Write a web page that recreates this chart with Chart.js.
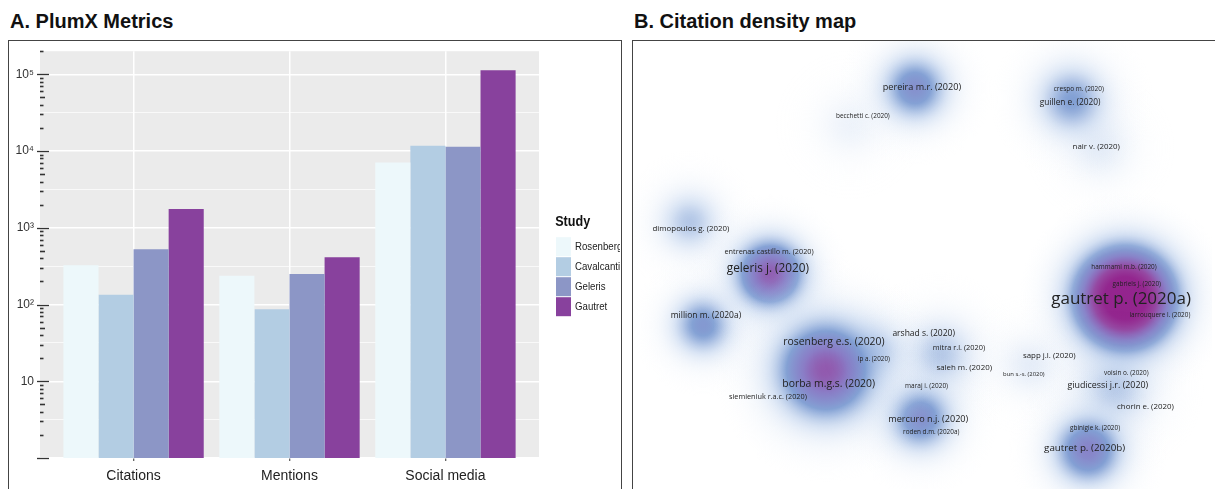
<!DOCTYPE html>
<html>
<head>
<meta charset="utf-8">
<script src="https://cdn.jsdelivr.net/npm/chart.js@4.4.0/dist/chart.umd.min.js"></script>
<style>
  html, body { margin: 0; padding: 0; background: #fff; width: 1215px; height: 489px; overflow: hidden; }
  .title { position: absolute; top: 10px; line-height: 20px; font: bold 20px "Liberation Sans", Arial, sans-serif; color: #111; white-space: nowrap; }
  .panel { position: absolute; top: 40px; height: 470px; border: 1.5px solid #444; box-sizing: border-box; }
  #boxA { left: 8px; width: 614px; }
  #boxB { left: 632px; width: 600px; }
  #wrapA { position: absolute; left: 9px; top: 41px; width: 611px; height: 448px; }
  #wrapB { position: absolute; left: 633px; top: 41px; width: 579px; height: 448px; }
</style>
</head>
<body>
<div class="title" style="left:10px">A. PlumX Metrics</div>
<div class="title" style="left:634px">B. Citation density map</div>
<div class="panel" id="boxA"></div>
<div class="panel" id="boxB"></div>
<div id="wrapA"><canvas id="plumx"></canvas></div>
<div id="wrapB"><canvas id="density"></canvas></div>
<script>
// ---- A. PlumX metrics (log scale)
var categories = ['Citations', 'Mentions', 'Social media'];
var studies = ['Rosenberg', 'Cavalcanti', 'Geleris', 'Gautret'];
var rosenberg = [325, 237, 7100];
var cavalcanti = [134, 87, 11700];
var geleris = [525, 250, 11400];
var gautret = [1760, 412, 113000];
var studyColors = ['#edf8fb', '#b3cde3', '#8c96c6', '#88419d'];
var yTickValues = [10, 100, 1000, 10000, 100000];
var yTickLabels = ['10', '10²', '10³', '10⁴', '10⁵'];

// ---- B. citation density map (map units 0-100)
var authors = ['pereira m.r. (2020)', 'becchetti c. (2020)', 'crespo m. (2020)', 'guillen e. (2020)', 'nair v. (2020)',
  'dimopoulos g. (2020)', 'entrenas castillo m. (2020)', 'geleris j. (2020)', 'million m. (2020a)', 'rosenberg e.s. (2020)',
  'arshad s. (2020)', 'ip a. (2020)', 'mitra r.l. (2020)', 'borba m.g.s. (2020)', 'siemieniuk r.a.c. (2020)',
  'maraj i. (2020)', 'saleh m. (2020)', 'mercuro n.j. (2020)', 'roden d.m. (2020a)', 'hammami m.b. (2020)',
  'gabriels j. (2020)', 'gautret p. (2020a)', 'larrouquere l. (2020)', 'sapp j.l. (2020)', 'bun s.-s. (2020)',
  'voisin o. (2020)', 'giudicessi j.r. (2020)', 'chorin e. (2020)', 'gbinigie k. (2020)', 'gautret p. (2020b)'];
var authorX = [49.9, 39.7, 77.0, 75.5, 80.0, 10.0, 23.5, 23.3, 12.6, 34.7, 50.2, 41.6, 56.3, 33.8, 23.3,
  50.7, 57.2, 51.0, 51.5, 84.8, 87.0, 84.3, 91.0, 71.9, 67.5, 85.2, 82.0, 88.5, 79.8, 78.0];
var authorY = [89.7, 83.3, 89.3, 86.2, 76.3, 58.0, 52.9, 49.3, 38.8, 32.8, 34.6, 29.0, 31.5, 23.4, 20.5,
  23.0, 27.0, 15.6, 12.7, 49.6, 45.8, 42.4, 38.8, 29.7, 25.7, 25.9, 23.0, 18.3, 13.6, 9.2];
var authorWeight = [41, 19, 20, 34, 31, 31, 26, 62, 36, 51, 36, 18, 27, 51, 26,
  20, 31, 41, 19, 19, 19, 104, 19, 31, 15, 19, 39, 31, 19, 46];
var blobX = [37.5, 80.7, 68.6, 9.8, 53.0, 83.2, 41.5, 75.8, 12.1, 48.7, 49.6, 78.6, 23.7, 33.3, 85.0];
var blobY = [81.3, 76.1, 27.7, 59.6, 29.9, 22.5, 30.5, 86.8, 36.6, 89.5, 15.8, 8.7, 48.0, 26.5, 42.6];
var blobR = [76, 76, 72, 72, 84, 90, 70, 82, 72, 78, 78, 80, 80, 112, 106];
var blobLevel = [0.12, 0.16, 0.16, 0.3, 0.3, 0.3, 0.32, 0.4, 0.44, 0.48, 0.48, 0.55, 0.7, 0.72, 1.2];

var sans = '"Liberation Sans", Arial, sans-serif';

function isDecade(v) {
  var l = Math.log10(v);
  return Math.abs(l - Math.round(l)) < 1e-6;
}

var panelBg = {
  id: 'panelBg',
  beforeDraw: function (chart) {
    var a = chart.chartArea, ctx = chart.ctx;
    ctx.save();
    ctx.fillStyle = '#ebebeb';
    ctx.fillRect(a.left, a.top, a.right - a.left, a.bottom - a.top);
    ctx.restore();
  }
};

var logTicks = {
  id: 'logTicks',
  afterDraw: function (chart) {
    var y = chart.scales.y, left = chart.chartArea.left, ctx = chart.ctx;
    ctx.save();
    ctx.strokeStyle = '#333';
    for (var k = 0; k <= 5; k++) {
      for (var m = 1; m <= 9; m++) {
        var v = m * Math.pow(10, k);
        if (v > y.max) continue;
        var py = Math.round(y.getPixelForValue(v)) + 0.5;
        var x0 = m === 1 ? left - 3 : left;
        var x1 = m === 1 ? left + 9 : (m === 5 ? left + 5 : left + 3.5);
        ctx.lineWidth = m === 1 ? 1.3 : 1.6;
        ctx.beginPath();
        ctx.moveTo(x0, py);
        ctx.lineTo(x1, py);
        ctx.stroke();
      }
    }
    ctx.restore();
  }
};

// legend drawn squeezed a little, like the narrow ggplot text
var studyLegend = {
  id: 'studyLegend',
  afterDraw: function (chart) {
    var a = chart.chartArea, ctx = chart.ctx;
    var x = a.right + 17, top = a.top + 186;
    ctx.save();
    ctx.textBaseline = 'middle';
    chart.data.datasets.forEach(function (ds, i) {
      var by = top + i * 20;
      ctx.fillStyle = ds.backgroundColor;
      ctx.fillRect(x, by, 15, 19);
    });
    ctx.translate(x, 0);
    ctx.scale(0.84, 1);
    ctx.fillStyle = '#111';
    ctx.font = 'bold 15px ' + sans;
    ctx.fillText('Study', -1, top - 15);
    ctx.font = '11.5px ' + sans;
    ctx.fillStyle = '#222';
    chart.data.datasets.forEach(function (ds, i) {
      ctx.fillText(ds.label, 19 / 0.84, top + i * 20 + 9.5);
    });
    ctx.restore();
  }
};

var seriesValues = [rosenberg, cavalcanti, geleris, gautret];

new Chart(document.getElementById('plumx'), {
  type: 'bar',
  data: {
    datasets: studies.map(function (s, i) {
      return {
        label: s,
        data: seriesValues[i].map(function (v, j) { return { x: j, y: v }; }),
        backgroundColor: studyColors[i],
        borderWidth: 0
      };
    })
  },
  options: {
    responsive: true,
    maintainAspectRatio: false,
    animation: false,
    events: [],
    layout: { padding: { top: 6, right: 81, left: 0, bottom: 0 } },
    datasets: { bar: { barPercentage: 1, categoryPercentage: 0.9 } },
    plugins: { legend: { display: false }, tooltip: { enabled: false } },
    scales: {
      x: {
        type: 'linear',
        min: -0.6,
        max: 2.6,
        offset: false,
        afterBuildTicks: function (s) { s.ticks = categories.map(function (c, i) { return { value: i }; }); },
        afterFit: function (s) { s.height = 31; },
        ticks: {
          callback: function (v) { return categories[v]; },
          autoSkip: false,
          maxRotation: 0,
          padding: 7,
          color: '#222',
          font: { family: sans, size: 14 }
        },
        grid: { offset: false, color: '#ffffff', lineWidth: 1.5, drawTicks: true, tickLength: 3, tickColor: '#333', tickWidth: 1 },
        border: { display: false }
      },
      y: {
        type: 'logarithmic',
        min: 1,
        max: 200000,
        bounds: 'data',
        afterBuildTicks: function (s) {
          var t = [];
          for (var k = 0; k <= 5; k++) {
            t.push({ value: Math.pow(10, k) });
            if (Math.pow(10, k + 0.5) < s.max) t.push({ value: Math.pow(10, k + 0.5) });
          }
          s.ticks = t;
        },
        afterFit: function (s) { s.width = 31; },
        ticks: {
          autoSkip: false,
          padding: 3,
          color: '#333',
          font: { family: sans, size: 12 },
          callback: function (v) {
            var i = yTickValues.indexOf(v);
            return i >= 0 ? yTickLabels[i] : '';
          }
        },
        grid: {
          color: '#ffffff',
          lineWidth: function (c) { return c.tick && isDecade(c.tick.value) ? 1.5 : 0.7; },
          drawTicks: true,
          tickLength: 3,
          tickColor: 'rgba(0,0,0,0)'
        },
        border: { display: false }
      }
    }
  },
  plugins: [panelBg, logTicks, studyLegend]
});

// density colour ramp: white -> blue -> purple
var ramp = [[0, 222, 232, 246], [0.2, 180, 202, 234], [0.4, 120, 152, 208], [0.6, 128, 112, 192], [0.8, 142, 50, 150], [1, 138, 18, 132]];
function rampColor(d, alpha) {
  d = Math.max(0, Math.min(1, d));
  for (var i = 1; i < ramp.length; i++) {
    if (d <= ramp[i][0]) {
      var a = ramp[i - 1], b = ramp[i], t = (d - a[0]) / (b[0] - a[0]);
      return 'rgba(' + Math.round(a[1] + (b[1] - a[1]) * t) + ',' + Math.round(a[2] + (b[2] - a[2]) * t) + ',' +
        Math.round(a[3] + (b[3] - a[3]) * t) + ',' + alpha.toFixed(3) + ')';
    }
  }
  return 'rgba(138,18,132,' + alpha + ')';
}

// kernel: sharp core plus a wide faint halo, zero at the rim
function kernel(s) {
  var edge = 0.8 * Math.exp(-5.5) + 0.2 * Math.exp(-1.6);
  return (0.8 * Math.exp(-5.5 * s * s) + 0.2 * Math.exp(-1.6 * s * s) - edge) / (1 - edge);
}

// soft density blobs painted at the bubble elements' positions
var densityBlobs = {
  id: 'densityBlobs',
  beforeDatasetsDraw: function (chart) {
    var ctx = chart.ctx, meta = chart.getDatasetMeta(0);
    ctx.save();
    meta.data.forEach(function (el, i) {
      var raw = chart.data.datasets[0].data[i];
      var r = el.options.radius;
      if (!isFinite(el.x) || !isFinite(el.y) || !(r > 0)) return;
      var g = ctx.createRadialGradient(el.x, el.y, 0, el.x, el.y, r);
      for (var k = 0; k <= 20; k++) {
        var s = k / 20;
        var d = raw.level * kernel(s);
        g.addColorStop(s, rampColor(d, Math.min(0.92, d / 0.42)));
      }
      ctx.fillStyle = g;
      ctx.beginPath();
      ctx.arc(el.x, el.y, r, 0, Math.PI * 2);
      ctx.fill();
    });
    ctx.restore();
  }
};

var authorLabels = {
  id: 'authorLabels',
  afterDatasetsDraw: function (chart) {
    var ctx = chart.ctx, meta = chart.getDatasetMeta(1);
    ctx.save();
    ctx.fillStyle = '#222';
    ctx.textAlign = 'center';
    ctx.textBaseline = 'middle';
    meta.data.forEach(function (pt, i) {
      ctx.font = (4 + authorWeight[i] / 8).toFixed(1) + 'px "Open Sans", sans-serif';
      ctx.fillText(authors[i], pt.x, pt.y);
    });
    ctx.restore();
  }
};

new Chart(document.getElementById('density'), {
  type: 'bubble',
  data: {
    datasets: [{
      data: blobX.map(function (x, i) { return { x: x, y: blobY[i], r: blobR[i], level: blobLevel[i] }; }),
      backgroundColor: 'rgba(0,0,0,0)',
      borderWidth: 0
    }, {
      type: 'scatter',
      data: authorX.map(function (x, i) { return { x: x, y: authorY[i] }; }),
      pointRadius: 0
    }]
  },
  options: {
    responsive: true,
    maintainAspectRatio: false,
    animation: false,
    events: [],
    layout: { padding: 0, autoPadding: false },
    plugins: { legend: { display: false }, tooltip: { enabled: false } },
    scales: {
      x: { type: 'linear', min: 0, max: 100, display: false },
      y: { type: 'linear', min: 0, max: 100, display: false }
    }
  },
  plugins: [densityBlobs, authorLabels]
});
</script>
</body>
</html>
